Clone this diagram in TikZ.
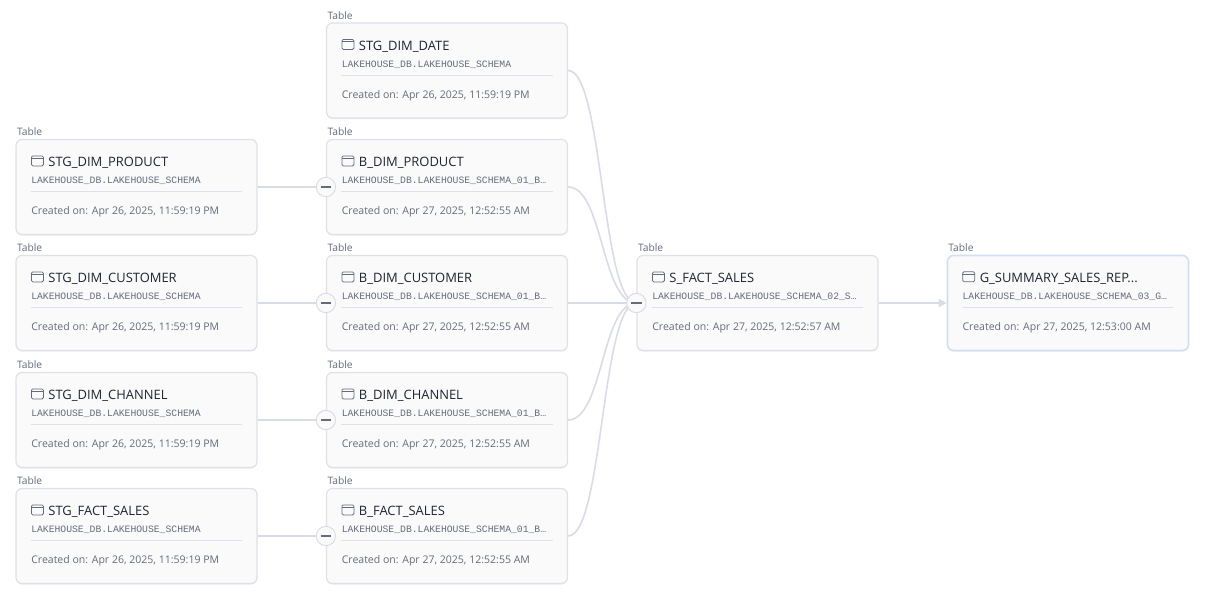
\documentclass[tikz,border=0pt]{standalone}
\usepackage{fontspec}
\setmainfont{Open Sans}
\setmonofont{Liberation Mono}
\usetikzlibrary{arrows.meta,positioning,shadows}

\definecolor{cardedge}{HTML}{DFE1E8}
\definecolor{cardfill}{HTML}{FAFAFA}
\definecolor{linkgray}{HTML}{D9DBE5}
\definecolor{titleink}{HTML}{1F2330}
\definecolor{softink}{HTML}{666B7C}
\definecolor{picked}{HTML}{D3DFF0}

\tikzset{
    cardbox/.style={draw=cardedge,fill=cardfill,line width=0.9pt,rounded corners=4.5pt,
        minimum width=180.75pt,minimum height=71.25pt,inner sep=0pt,
        drop shadow={shadow xshift=0pt,shadow yshift=-0.8pt,opacity=0.12,fill=black!60}},
    pickedbox/.style={cardbox,draw=picked,line width=1.2pt},
    kindtext/.style={inner sep=0pt,anchor=south west,font=\fontsize{7.7}{8}\selectfont,text=softink},
    titletext/.style={inner sep=0pt,anchor=west,font=\fontsize{9.7}{11}\selectfont,text=titleink},
    schematext/.style={inner sep=0pt,anchor=west,font=\ttfamily\fontsize{7.3}{9}\selectfont,text=softink},
    datetext/.style={inner sep=0pt,anchor=west,font=\fontsize{7.9}{10}\selectfont,text=softink},
    tableicon/.style={draw=softink,line width=0.6pt,rounded corners=1pt,minimum width=9pt,minimum height=7.5pt,inner sep=0pt},
    link/.style={draw=linkgray,line width=1.2pt},
    collapse/.style={draw=linkgray,fill=cardfill,circle,minimum size=14.5pt,inner sep=0pt,line width=0.7pt,text=softink}
}

% card: name, x, y of the centre, box style, title, schema, date
\newcommand{\card}[7]{
    \node[#4] (#1) at (#2,#3) {};
    \node[kindtext] (#1-kind) at ([shift={(1pt,2.2pt)}]#1.north west) {Table};
    \node[tableicon] (#1-icon) at ([shift={(16.5pt,-16.5pt)}]#1.north west) {};
    \draw[draw=softink,line width=0.6pt] ([yshift=-2pt]#1-icon.north west) -- ([yshift=-2pt]#1-icon.north east);
    \node[titletext] (#1-title) at ([shift={(24.6pt,-18.3pt)}]#1.north west) {#5};
    \node[schematext] (#1-schema) at ([shift={(11.7pt,-31.4pt)}]#1.north west) {#6};
    \node[datetext] (#1-date) at ([shift={(11.7pt,-55pt)}]#1.north west) {#7};
    \draw[draw=cardedge,line width=0.7pt] ([shift={(11.4pt,-39.5pt)}]#1.north west) -- ([shift={(-11.4pt,-39.5pt)}]#1.north east);
}

\begin{document}
\begin{tikzpicture}[x=0.75pt,y=-0.75pt]
    \useasboundingbox (0,0) rectangle (1208,600);

    % first column
    \card{stgproduct}{136.5}{187}{cardbox}{STG\_DIM\_PRODUCT}{LAKEHOUSE\_DB.LAKEHOUSE\_SCHEMA}{Created on: Apr 26, 2025, 11:59:19 PM}
    \card{stgcustomer}{136.5}{303}{cardbox}{STG\_DIM\_CUSTOMER}{LAKEHOUSE\_DB.LAKEHOUSE\_SCHEMA}{Created on: Apr 26, 2025, 11:59:19 PM}
    \card{stgchannel}{136.5}{420}{cardbox}{STG\_DIM\_CHANNEL}{LAKEHOUSE\_DB.LAKEHOUSE\_SCHEMA}{Created on: Apr 26, 2025, 11:59:19 PM}
    \card{stgfact}{136.5}{536}{cardbox}{STG\_FACT\_SALES}{LAKEHOUSE\_DB.LAKEHOUSE\_SCHEMA}{Created on: Apr 26, 2025, 11:59:19 PM}

    % second column
    \card{stgdate}{447}{70.5}{cardbox}{STG\_DIM\_DATE}{LAKEHOUSE\_DB.LAKEHOUSE\_SCHEMA}{Created on: Apr 26, 2025, 11:59:19 PM}
    \card{bproduct}{447}{187}{cardbox}{B\_DIM\_PRODUCT}{LAKEHOUSE\_DB.LAKEHOUSE\_SCHEMA\_01\_B…}{Created on: Apr 27, 2025, 12:52:55 AM}
    \card{bcustomer}{447}{303}{cardbox}{B\_DIM\_CUSTOMER}{LAKEHOUSE\_DB.LAKEHOUSE\_SCHEMA\_01\_B…}{Created on: Apr 27, 2025, 12:52:55 AM}
    \card{bchannel}{447}{420}{cardbox}{B\_DIM\_CHANNEL}{LAKEHOUSE\_DB.LAKEHOUSE\_SCHEMA\_01\_B…}{Created on: Apr 27, 2025, 12:52:55 AM}
    \card{bfact}{447}{536}{cardbox}{B\_FACT\_SALES}{LAKEHOUSE\_DB.LAKEHOUSE\_SCHEMA\_01\_B…}{Created on: Apr 27, 2025, 12:52:55 AM}

    % last two
    \card{sfact}{757.5}{303}{cardbox}{S\_FACT\_SALES}{LAKEHOUSE\_DB.LAKEHOUSE\_SCHEMA\_02\_S…}{Created on: Apr 27, 2025, 12:52:57 AM}
    \card{gsummary}{1068}{303}{pickedbox}{G\_SUMMARY\_SALES\_REP...}{LAKEHOUSE\_DB.LAKEHOUSE\_SCHEMA\_03\_G…}{Created on: Apr 27, 2025, 12:53:00 AM}

    \draw[link] (stgproduct) -- (bproduct);
    \draw[link] (stgcustomer) -- (bcustomer);
    \draw[link] (stgchannel) -- (bchannel);
    \draw[link] (stgfact) -- (bfact);

    \draw[link] (stgdate.east) .. controls +(35,0) and +(-35,0) .. (sfact.west);
    \draw[link] (bproduct.east) .. controls +(35,0) and +(-35,0) .. (sfact.west);
    \draw[link] (bcustomer.east) -- (sfact.west);
    \draw[link] (bchannel.east) .. controls +(35,0) and +(-35,0) .. (sfact.west);
    \draw[link] (bfact.east) .. controls +(35,0) and +(-35,0) .. (sfact.west);

    \draw[link,-{Triangle[length=6pt,width=6pt,fill=linkgray]}] (sfact.east) -- (gsummary.west);

    \node[collapse] (foldproduct) at (bproduct.west) {\rule{8pt}{0.8pt}};
    \node[collapse] (foldcustomer) at (bcustomer.west) {\rule{8pt}{0.8pt}};
    \node[collapse] (foldchannel) at (bchannel.west) {\rule{8pt}{0.8pt}};
    \node[collapse] (foldfact) at (bfact.west) {\rule{8pt}{0.8pt}};
    \node[collapse] (foldsales) at (sfact.west) {\rule{8pt}{0.8pt}};
\end{tikzpicture}
\end{document}
